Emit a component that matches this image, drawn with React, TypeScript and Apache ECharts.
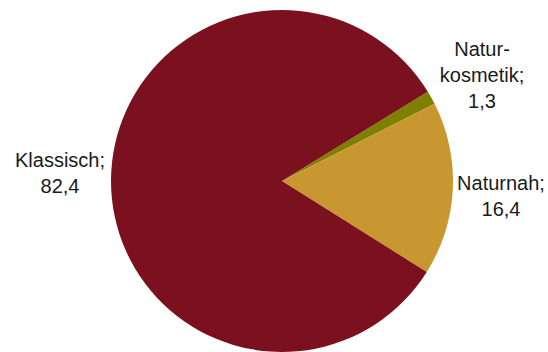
import React, { useEffect, useRef } from "react";
import * as echarts from "echarts";

const categories = ["Natur-\nkosmetik", "Naturnah", "Klassisch"];
const values = [1.3, 16.4, 82.4];
const colors = ["#7f8000", "#c9972f", "#7b111e"];
const labelPositions: [number, number][] = [
  [482, 75],
  [501, 196],
  [60, 173],
];

export default function App() {
  const ref = useRef<HTMLDivElement>(null);
  useEffect(() => {
    document.body.style.margin = "0";
    const chart = echarts.init(ref.current!, null, { renderer: "svg" });
    chart.setOption({
      animation: false,
      backgroundColor: "#ffffff",
      series: [
        {
          type: "pie",
          center: [282, 181],
          radius: 171,
          startAngle: 31.5,
          clockwise: true,
          data: categories.map((name, i) => ({
            name,
            value: values[i],
            itemStyle: { color: colors[i] },
          })),
          label: {
            show: true,
            position: "outside",
            alignTo: "none",
            overflow: "none",
            width: 200,
            formatter: (p: any) => `${p.name};\n${p.value.toFixed(1).replace(".", ",")}`,
            fontFamily: "'Liberation Sans', Arial, sans-serif",
            fontSize: 20,
            lineHeight: 26,
            color: "#1a1a1a",
            align: "center",
          },
          labelLine: { show: false },
          labelLayout: (params: any) => ({
            x: labelPositions[params.dataIndex][0],
            y: labelPositions[params.dataIndex][1],
            align: "center",
            verticalAlign: "middle",
          }),
          emphasis: { disabled: true },
        },
      ],
    });
    return () => chart.dispose();
  }, []);
  return <div ref={ref} style={{ width: 548, height: 352 }} />;
}
